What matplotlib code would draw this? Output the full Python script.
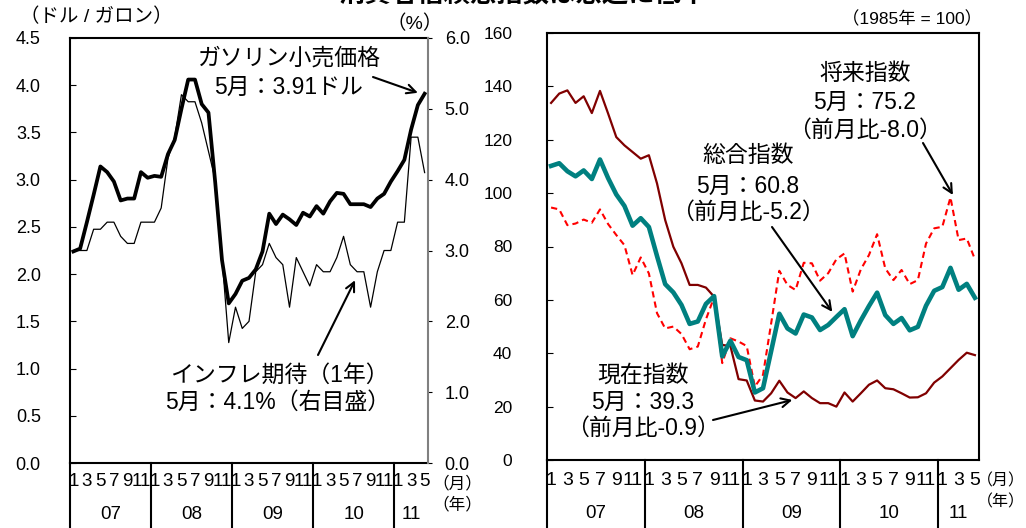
import numpy as np
import matplotlib
matplotlib.use('Agg')
import matplotlib.pyplot as plt
import matplotlib.transforms as mtransforms

plt.rcParams['font.family'] = ['Liberation Sans', 'Noto Sans CJK JP', 'DejaVu Sans']

W, H = 1026, 528

# months Jan 2007 .. May 2011
years = ['07', '08', '09', '10', '11']
months_per_year = [12, 12, 12, 12, 5]
month_labels = ['1', '3', '5', '7', '9', '11']

# gasoline retail price (dollar / gallon), left axis
gasoline = [2.24, 2.27, 2.55, 2.84, 3.14, 3.08, 2.98, 2.78, 2.80, 2.80, 3.08, 3.02,
            3.04, 3.03, 3.27, 3.42, 3.75, 4.06, 4.06, 3.80, 3.71, 2.97, 2.15, 1.69,
            1.79, 1.93, 1.96, 2.05, 2.24, 2.64, 2.53, 2.63, 2.58, 2.52, 2.65, 2.61,
            2.72, 2.64, 2.77, 2.86, 2.85, 2.74, 2.74, 2.74, 2.71, 2.80, 2.85, 2.98,
            3.09, 3.21, 3.53, 3.79, 3.91]

# 1-year inflation expectations (%), right axis
inflation_exp = [3.0, 3.0, 3.0, 3.3, 3.3, 3.4, 3.4, 3.2, 3.1, 3.1, 3.4, 3.4,
                 3.4, 3.6, 4.3, 4.6, 5.2, 5.1, 5.1, 4.8, 4.4, 4.0, 2.9, 1.7,
                 2.2, 1.9, 2.0, 2.7, 2.8, 3.1, 2.9, 2.8, 2.2, 2.9, 2.7, 2.5,
                 2.8, 2.7, 2.7, 2.9, 3.2, 2.8, 2.7, 2.7, 2.2, 2.7, 3.0, 3.0,
                 3.4, 3.4, 4.6, 4.6, 4.1]

# consumer confidence (1985 = 100)
total_idx = [110.2, 111.2, 108.2, 106.3, 108.5, 105.3, 112.6, 105.6, 99.5, 95.2, 87.8, 90.6,
             87.3, 76.4, 65.9, 62.8, 58.1, 51.0, 51.9, 58.5, 61.4, 38.8, 44.7, 38.6,
             37.4, 25.3, 26.9, 40.8, 54.8, 49.3, 47.4, 54.5, 53.4, 48.7, 50.6, 53.6,
             56.5, 46.4, 52.3, 57.7, 62.7, 54.3, 51.0, 53.2, 48.6, 49.9, 57.8, 63.4,
             64.8, 72.0, 63.8, 66.0, 60.8]
present_idx = [133.8, 137.3, 138.5, 133.8, 136.3, 130.0, 138.3, 129.8, 121.0, 117.9, 115.4, 112.9,
               114.2, 103.6, 89.9, 79.9, 73.7, 65.6, 65.6, 64.6, 61.2, 43.1, 42.7, 30.3,
               29.8, 22.3, 21.9, 25.0, 29.7, 25.3, 23.2, 25.7, 23.2, 21.3, 21.3, 20.0,
               25.3, 21.9, 25.0, 28.2, 29.8, 26.9, 26.5, 25.0, 23.4, 23.5, 25.0, 29.0,
               31.3, 34.4, 37.5, 40.2, 39.3]
expect_idx = [94.6, 93.9, 88.0, 88.6, 90.1, 88.9, 93.9, 88.4, 84.3, 80.5, 69.3, 75.9,
              69.9, 55.0, 49.3, 50.0, 47.2, 41.5, 42.5, 52.7, 61.0, 36.3, 45.6, 44.4,
              42.7, 27.5, 31.9, 51.2, 70.9, 65.6, 63.7, 73.9, 73.7, 67.2, 70.0, 75.2,
              77.4, 63.1, 71.4, 76.8, 84.6, 71.8, 67.4, 71.2, 65.9, 67.4, 81.1, 86.8,
              87.4, 98.4, 82.4, 83.0, 75.2]

x = np.arange(len(gasoline))
n = len(x)


def fig_xy(px, py):
    return px / W, 1 - py / H


def month_axis(ax, month_y, year_y, line_bottom, size):
    # month / year labels drawn as a little table under the axes
    trans = mtransforms.blended_transform_factory(ax.transData, ax.transAxes)
    start = 0
    for yr, cnt in zip(years, months_per_year):
        for m in range(cnt):
            if str(m + 1) in month_labels:
                ax.text(start + m, month_y, str(m + 1), transform=trans,
                        ha='center', va='center', fontsize=size)
        ax.text(start + (cnt - 1) / 2, year_y, yr, transform=trans,
                ha='center', va='center', fontsize=13.5)
        ax.plot([start - 0.5, start - 0.5], [0, line_bottom], transform=trans,
                color='black', lw=1.5, clip_on=False)
        start += cnt


def arrow(ax, tip, start):
    ax.annotate('', xy=tip, xycoords='data',
                xytext=(start[0], H - start[1]), textcoords='figure pixels',
                arrowprops=dict(arrowstyle='->', color='black', lw=1.5,
                                shrinkA=0, shrinkB=0, mutation_scale=16))


fig = plt.figure(figsize=(W / 100, H / 100), dpi=100)

# ---------------- left panel ----------------
ax1 = fig.add_axes([70 / W, 1 - 463 / H, 358 / W, 425 / H])
ax1.plot(x, gasoline, color='black', lw=2.7, zorder=3)
ax1.set_xlim(-0.5, n - 0.5)
ax1.set_ylim(0, 4.5)
ax1.set_yticks(np.arange(0, 4.51, 0.5))
ax1.set_yticklabels([f'{v:.1f}' for v in np.arange(0, 4.51, 0.5)])
ax1.tick_params(axis='y', direction='in', length=4, pad=21, labelsize=13)
ax1.set_xticks([])
for s in ['left', 'top', 'bottom']:
    ax1.spines[s].set_linewidth(1.5)
ax1.spines['right'].set_visible(False)

ax2 = ax1.twinx()
ax2.plot(x, inflation_exp, color='black', lw=0.9, zorder=2)
ax2.set_ylim(0, 6)
ax2.set_yticks(np.arange(0, 6.01, 1.0))
ax2.set_yticklabels([f'{v:.1f}' for v in np.arange(0, 6.01, 1.0)])
ax2.tick_params(axis='y', direction='out', length=3, pad=9, labelsize=13)
ax2.spines['right'].set_color('gray')
ax2.spines['right'].set_linewidth(1.5)
for s in ['left', 'top', 'bottom']:
    ax2.spines[s].set_visible(False)

month_axis(ax1, -0.043, -0.122, -0.155, 13.5)

fig.text(*fig_xy(96, 17), '（ドル / ガロン）', ha='center', va='center', fontsize=14)
fig.text(*fig_xy(415, 24), '（%）', ha='center', va='center', fontsize=14)
fig.text(*fig_xy(457, 483), '（月）', ha='center', va='center', fontsize=12)
fig.text(*fig_xy(457, 504), '（年）', ha='center', va='center', fontsize=12)

fig.text(*fig_xy(289, 58), 'ガソリン小売価格', ha='center', va='center', fontsize=16.5)
fig.text(*fig_xy(289, 87), '5月：3.91ドル', ha='center', va='center', fontsize=16.5)
arrow(ax1, (51.0, 3.92), (373, 77))

fig.text(*fig_xy(279, 375), 'インフレ期待（1年）', ha='center', va='center', fontsize=16.5)
fig.text(*fig_xy(278, 402), '5月：4.1%（右目盛）', ha='center', va='center', fontsize=16.5)
arrow(ax2, (41.7, 2.58), (318, 355))

# ---------------- right panel ----------------
ax3 = fig.add_axes([547 / W, 1 - 460 / H, 432 / W, 427 / H])
ax3.plot(x, present_idx, color='#800000', lw=1.6, zorder=2)
ax3.plot(x, expect_idx, color='#ff0000', lw=1.5, ls=(0, (3, 2)), zorder=3)
ax3.plot(x, total_idx, color='#008080', lw=3.3, zorder=4)
ax3.set_xlim(-0.5, n - 0.5)
ax3.set_ylim(0, 160)
ax3.set_yticks(np.arange(0, 161, 20))
ax3.tick_params(axis='y', direction='in', length=4, pad=25, labelsize=12.5)
ax3.set_xticks([])
for s in ax3.spines.values():
    s.set_linewidth(1.5)

month_axis(ax3, -0.049, -0.126, -0.165, 14)

fig.text(*fig_xy(912, 19), '（1985年 = 100）', ha='center', va='center', fontsize=12.5)
fig.text(*fig_xy(1001, 481), '（月）', ha='center', va='center', fontsize=11.5)
fig.text(*fig_xy(1001, 502), '（年）', ha='center', va='center', fontsize=11.5)

fig.text(*fig_xy(865, 73), '将来指数', ha='center', va='center', fontsize=16.5)
fig.text(*fig_xy(865, 102), '5月：75.2', ha='center', va='center', fontsize=16.5)
fig.text(*fig_xy(865, 130), '（前月比-8.0）', ha='center', va='center', fontsize=16.5)
arrow(ax3, (49.3, 99.3), (923, 143))

fig.text(*fig_xy(748, 155), '総合指数', ha='center', va='center', fontsize=16.5)
fig.text(*fig_xy(748, 186), '5月：60.8', ha='center', va='center', fontsize=16.5)
fig.text(*fig_xy(748, 212), '（前月比-5.2）', ha='center', va='center', fontsize=16.5)
arrow(ax3, (34.5, 55.5), (772, 227))

fig.text(*fig_xy(643, 375), '現在指数', ha='center', va='center', fontsize=16.5)
fig.text(*fig_xy(643, 402), '5月：39.3', ha='center', va='center', fontsize=16.5)
fig.text(*fig_xy(643, 428), '（前月比-0.9）', ha='center', va='center', fontsize=16.5)
arrow(ax3, (29.6, 22.5), (713, 420))

# title, mostly cut off at the top edge as in the source image
fig.text(*fig_xy(523, 2), '消費者信頼感指数は急速に低下', ha='center', va='baseline',
         fontsize=19, fontweight='bold')

fig.savefig('out.png', dpi=100)
